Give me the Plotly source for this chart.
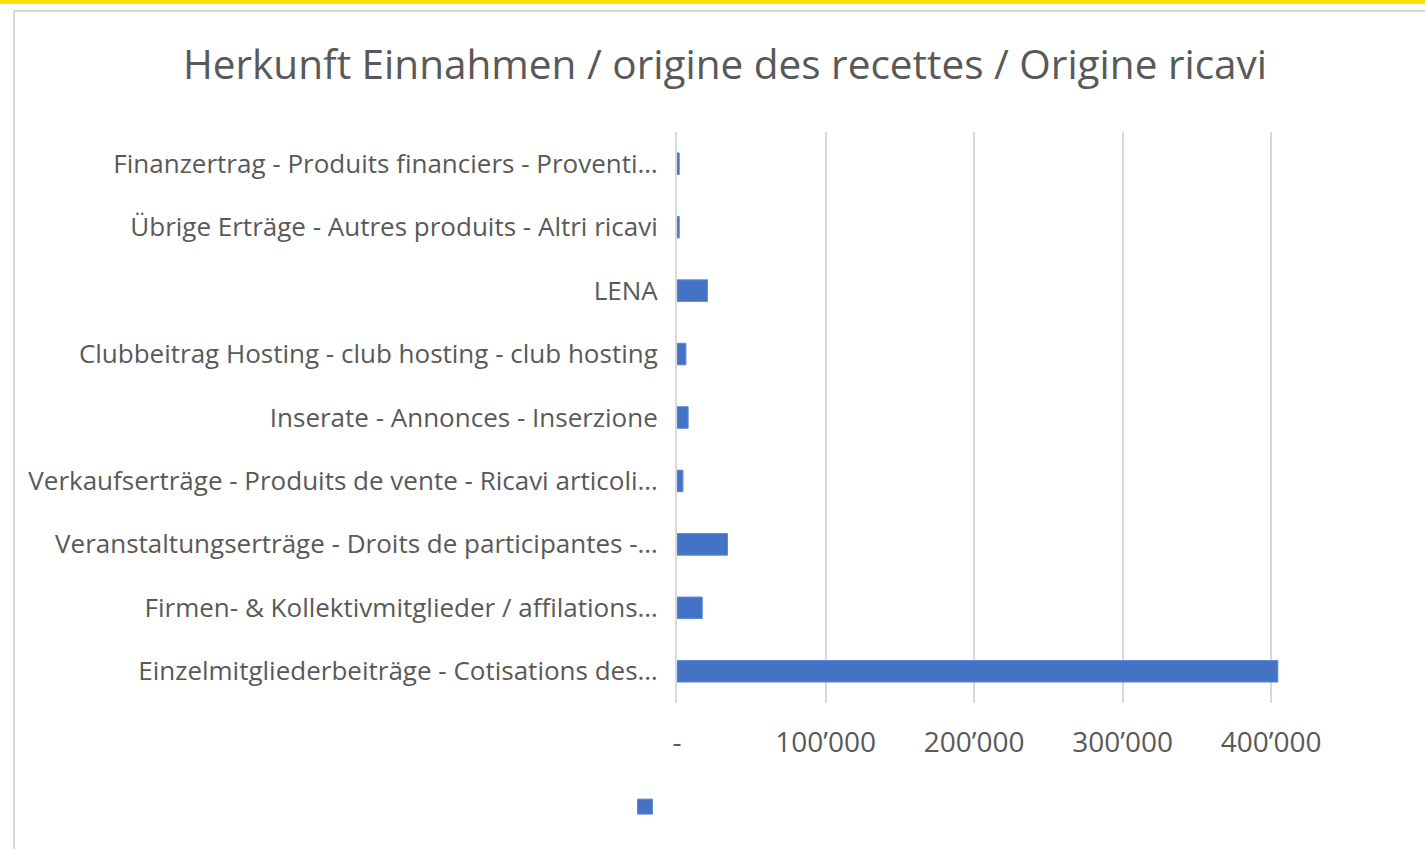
import plotly.graph_objects as go

categories = [
    "Einzelmitgliederbeiträge - Cotisations des…",
    "Firmen- & Kollektivmitglieder / affilations…",
    "Veranstaltungserträge - Droits de participantes -…",
    "Verkaufserträge - Produits de vente - Ricavi articoli…",
    "Inserate - Annonces - Inserzione",
    "Clubbeitrag Hosting - club hosting - club hosting",
    "LENA",
    "Übrige Erträge - Autres produits - Altri ricavi",
    "Finanzertrag - Produits financiers - Proventi…",
]
values = [404500, 17000, 34000, 4000, 7500, 6000, 20500, 1500, 1500]
tick_vals = [0, 100000, 200000, 300000, 400000]
tick_text = ["-", "100’000", "200’000", "300’000", "400’000"]
title_text = "Herkunft Einnahmen / origine des recettes / Origine ricavi"

W, H = 1425, 849
L, R, T, B = 677, 139, 132, 146
pw, ph = W - L - R, H - T - B

def px(x):
    return (x - L) / pw

def py(y):
    return (H - B - y) / ph

FONT = "Open Sans"
GRAY = "#595959"
BLUE = "#4472C4"

fig = go.Figure()
fig.add_trace(go.Bar(
    y=categories, x=values, orientation="h",
    marker=dict(color=BLUE, line=dict(color="#5B8BD6", width=1)),
    name="", showlegend=False,
))
# legend key (the reference legend shows only a square with no label)
fig.add_trace(go.Scatter(
    x=[None], y=[None], mode="markers", name="",
    marker=dict(symbol="square", size=15, color=BLUE, line=dict(color="#5B8BD6", width=1)),
    showlegend=True, hoverinfo="skip",
))

fig.update_layout(
    width=W, height=H,
    margin=dict(l=L, r=R, t=T, b=B),
    paper_bgcolor="white", plot_bgcolor="white",
    bargap=0.66,
    title=dict(text=title_text, x=px(725), xref="paper", xanchor="center",
               y=1 - 65 / H, yref="container", yanchor="middle",
               font=dict(family=FONT, size=40.5, color=GRAY)),
    xaxis=dict(range=[0, 410000], tickvals=tick_vals, ticktext=tick_text,
               showgrid=True, gridcolor="#D9D9D9", gridwidth=1.5,
               zeroline=False, showline=False, ticks="",
               ticklabelstandoff=20,
               tickfont=dict(family=FONT, size=28, color=GRAY)),
    yaxis=dict(showline=True, linecolor="#D9D9D9", linewidth=2,
               ticks="", ticklabelstandoff=12, showgrid=False,
               tickfont=dict(family=FONT, size=26, color=GRAY)),
    legend=dict(orientation="h", x=px(625), y=py(807), xanchor="left", yanchor="middle",
                font=dict(family=FONT, size=14, color=GRAY), bgcolor="rgba(0,0,0,0)"),
    shapes=[
        dict(type="rect", xref="paper", yref="paper",
             x0=px(14), x1=px(1440), y0=py(11), y1=py(870),
             line=dict(color="#D9D9D9", width=2), fillcolor="rgba(0,0,0,0)", layer="below"),
        dict(type="rect", xref="paper", yref="paper",
             x0=px(-5), x1=px(1440), y0=py(-5), y1=py(4),
             line=dict(width=0), fillcolor="#FFE000", layer="above"),
    ],
)

fig.write_html("out.html", config={"displayModeBar": False},
               post_script="document.body.style.margin='0';document.body.style.overflow='hidden';")
